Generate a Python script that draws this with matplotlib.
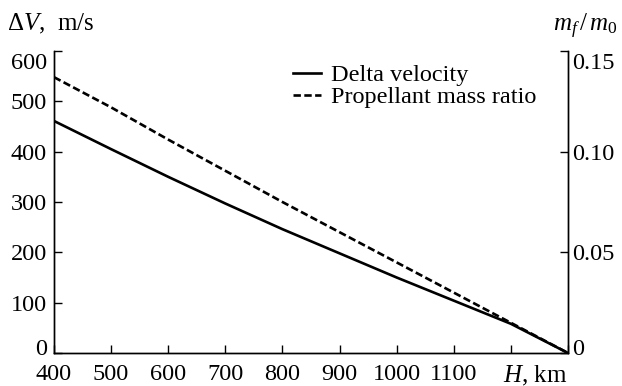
import matplotlib
matplotlib.use("Agg")
import matplotlib.pyplot as plt
import matplotlib.transforms as mtransforms

# Data
altitude_km = [400, 500, 600, 700, 800, 900, 1000, 1100, 1200, 1300]
delta_v = [461, 405, 350, 297, 246, 198, 150, 104, 58, 0]
mass_ratio = [0.137, 0.122, 0.106, 0.0905, 0.075, 0.060, 0.045, 0.030, 0.015, 0.0]

x_ticks = [400, 500, 600, 700, 800, 900, 1000, 1100, 1200, 1300]
x_labels = ["400", "500", "600", "700", "800", "900", "1000", "1100", "", ""]
left_ticks = [0, 100, 200, 300, 400, 500, 600]
right_ticks = [0, 0.05, 0.10, 0.15]
right_labels = ["0", "0.05", "0.10", "0.15"]

plt.rcParams["font.family"] = ["Liberation Serif", "DejaVu Serif"]
plt.rcParams["mathtext.fontset"] = "custom"
plt.rcParams["mathtext.rm"] = "Liberation Serif"
plt.rcParams["mathtext.it"] = "Liberation Serif:italic"
plt.rcParams["font.size"] = 18

fig = plt.figure(figsize=(6.22, 3.86), dpi=100)
ax = fig.add_axes([54 / 622, 1 - 353 / 386, (568 - 54) / 622, (353 - 51) / 386])
ax2 = ax.twinx()

l1, = ax.plot(altitude_km, delta_v, color="black", lw=1.9, label="Delta velocity")
l2, = ax2.plot(altitude_km, mass_ratio, color="black", lw=1.9, ls=(0, (2.8, 1.3)),
               label="Propellant mass ratio")

ax.set_xlim(400, 1300)
ax.set_ylim(0, 600)
ax2.set_ylim(0, 0.15)

for a in (ax, ax2):
    a.spines["top"].set_visible(False)
    for s in a.spines.values():
        s.set_linewidth(1.0)

ax.set_xticks(x_ticks)
ax.set_xticklabels(x_labels)
ax.set_yticks(left_ticks)
ax2.set_yticks(right_ticks)
ax2.set_yticklabels(right_labels)

ax.tick_params(axis="both", direction="in", length=6, width=1.0, labelsize=17.5)
ax.tick_params(axis="x", pad=8)
ax.tick_params(axis="y", pad=5)
ax2.tick_params(axis="y", direction="in", length=6, width=1.0, labelsize=17.5, pad=3)

# end labels nudged away from the corners, as in the original
fig.canvas.draw()
down = mtransforms.ScaledTranslation(0, -10 / 100, fig.dpi_scale_trans)
up = mtransforms.ScaledTranslation(0, 6 / 100, fig.dpi_scale_trans)
ylabs = ax.get_yticklabels()
ylabs[-1].set_transform(ylabs[-1].get_transform() + down)
ylabs[0].set_transform(ylabs[0].get_transform() + up)
rlabs = ax2.get_yticklabels()
rlabs[-1].set_transform(rlabs[-1].get_transform() + down)
rlabs[0].set_transform(rlabs[0].get_transform() + up)

fig.text(7 / 622, 1 - 30 / 386, r"$\Delta V$,  m/s", ha="left", va="baseline", fontsize=18)
fig.text(618 / 622, 1 - 26 / 386, r"$m_f\,/\,m_0$", ha="right", va="center", fontsize=18)
fig.text(567 / 622, 1 - 382 / 386, r"$H$, km", ha="right", va="baseline", fontsize=18)

ax2.legend(handles=[l1, l2], loc="upper left", bbox_to_anchor=(281 / 622, 1 - 52 / 386),
           bbox_transform=fig.transFigure, frameon=False, fontsize=17.5,
           handlelength=1.15, handletextpad=0.4, labelspacing=0.0, borderpad=0)

fig.savefig("out.png", dpi=100)
